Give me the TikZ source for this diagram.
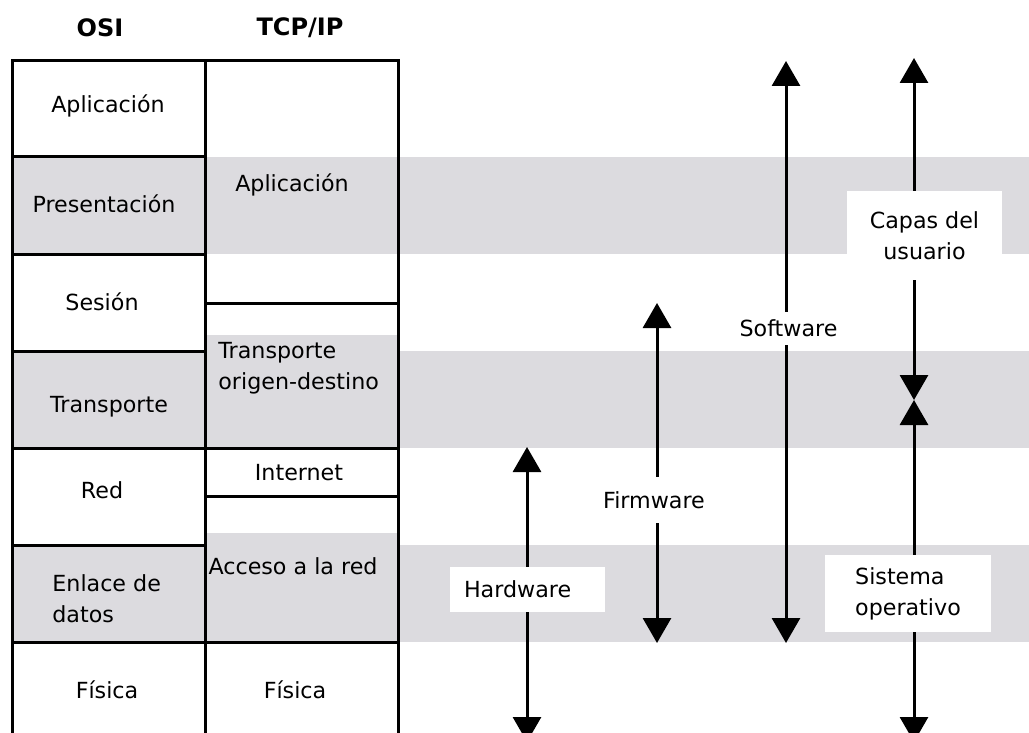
\documentclass[tikz,border=0pt]{standalone}
\usepackage{fontspec}
\setmainfont{DejaVu Sans}
\usetikzlibrary{arrows.meta}
\definecolor{banda}{RGB}{220,219,223}
\tikzset{
  linea/.style={line width=1.5pt},
  flecha/.style={line width=1.5pt,
    {Triangle[width=14pt,length=12.5pt]}-{Triangle[width=14pt,length=12.5pt]}},
  texto/.style={font=\fontsize{11.1}{15.5}\selectfont, inner sep=0pt,
    text height=8.1pt, text depth=0pt},
  bloque/.style={font=\fontsize{11.1}{15.5}\selectfont, inner sep=0pt, align=left},
  titulo/.style={font=\bfseries\fontsize{12}{14}\selectfont, inner sep=0pt},
  caja/.style={fill=white},
}
\begin{document}
\begin{tikzpicture}[x=0.5pt,y=-0.5pt]
  \useasboundingbox (0,0) rectangle (1029,733);
  % Bandas grises
  \fill[banda] (12,157) rectangle (1029,254);
  \fill[banda] (12,351) rectangle (1029,448);
  \fill[banda] (12,545) rectangle (1029,642);
  \fill[banda] (205,335) rectangle (398,351);
  \fill[banda] (205,533) rectangle (398,545);
  % Columnas
  \draw[linea] (12,736) -- (12,61) -- (398,61) -- (398,736);
  \draw[linea] (205,61) -- (205,736);
  % Capas OSI
  \foreach \y in {157,254,351,448,545,642}
    \draw[linea] (12,\y) -- (205,\y);
  % Capas TCP/IP
  \foreach \y in {303,448,496,642}
    \draw[linea] (205,\y) -- (398,\y);
  % Titulos
  \node[titulo] (osi) at (100,28) {OSI};
  \node[titulo] (tcpip) at (300,28) {TCP/IP};
  % Modelo OSI
  \node[texto] (osiapl) at (108,104) {Aplicación};
  \node[texto] (osipre) at (104,204) {Presentación};
  \node[texto] (osises) at (102,302) {Sesión};
  \node[texto] (ositra) at (109,404) {Transporte};
  \node[texto] (osired) at (102,490) {Red};
  \node[bloque, anchor=west] (osienl) at (52,599) {Enlace de\\datos};
  \node[texto] (osifis) at (107,690) {Física};
  % Modelo TCP/IP
  \node[texto] (tcpapl) at (292,183) {Aplicación};
  \node[bloque, anchor=west] (tcptra) at (218,368) {Transporte\\origen-destino};
  \node[texto] (tcpint) at (299,472) {Internet};
  \node[texto] (tcpacc) at (293,566) {Acceso a la red};
  \node[texto] (tcpfis) at (295,690) {Física};
  % Extremos de las flechas
  \coordinate (hwarriba) at (527,447);
  \coordinate (hwabajo) at (527,742);
  \coordinate (fwarriba) at (657,303);
  \coordinate (fwabajo) at (657,643);
  \coordinate (swarriba) at (786,61);
  \coordinate (swabajo) at (786,643);
  \coordinate (usarriba) at (914,58);
  \coordinate (medio) at (914,400);
  \coordinate (soabajo) at (914,742);
  % Flechas
  \draw[flecha] (hwabajo) -- (hwarriba);
  \draw[flecha] (fwabajo) -- (fwarriba);
  \draw[flecha] (swabajo) -- (swarriba);
  \draw[flecha] (medio) -- (usarriba);
  \draw[flecha] (soabajo) -- (medio);
  % Etiquetas
  \node[texto, caja, inner xsep=7pt, text width=63.5pt, minimum height=22.5pt] (hardware) at (527.5,589.5) {Hardware};
  \node[texto, caja, minimum height=23pt, inner xsep=1pt] (firmware) at (654,500) {Firmware};
  \node[texto, caja, minimum height=16.5pt, inner xsep=1pt] (software) at (788.5,328.5) {Software};
  \node[bloque, caja, align=center, minimum width=77.5pt, minimum height=44.5pt] (usuario) at (924.5,235.5) {Capas del\\usuario};
  \node[bloque, caja, minimum width=83pt, minimum height=38.5pt] (sistema) at (908,593.5) {Sistema\\operativo};
\end{tikzpicture}
\end{document}
